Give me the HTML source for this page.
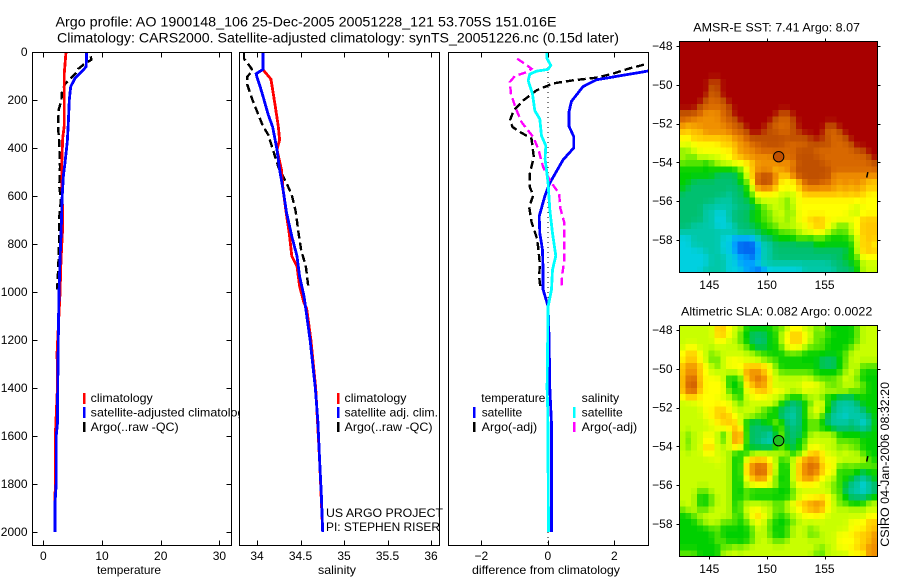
<!DOCTYPE html>
<html lang="en">
<head>
<meta charset="utf-8">
<title>Argo profile 1900148_106</title>
<style>
html,body{margin:0;padding:0;background:#fff;width:900px;height:580px;overflow:hidden}
svg{display:block}
text{font-family:"Liberation Sans",Arial,sans-serif;font-size:12px;fill:#000}
.title{font-size:14px}
.curve{fill:none;shape-rendering:crispEdges;stroke-linejoin:miter}
</style>
</head>
<body>
<svg id="chart" xmlns="http://www.w3.org/2000/svg" width="900" height="580" viewBox="0 0 900 580">
  <defs>
    <clipPath id="clip-t"><rect x="32" y="52" width="199" height="493"/></clipPath>
    <clipPath id="clip-s"><rect x="239.5" y="52" width="199.5" height="493"/></clipPath>
    <clipPath id="clip-d"><rect x="448.3" y="52" width="200" height="493"/></clipPath>
    <clipPath id="clip-legend"><rect x="0" y="380" width="239" height="60"/></clipPath>
  </defs>
  <text class="title" x="55.5" y="26.5" textLength="501" lengthAdjust="spacingAndGlyphs">Argo profile: AO 1900148_106 25-Dec-2005 20051228_121 53.705S 151.016E</text>
  <text class="title" x="57" y="42.5" textLength="562" lengthAdjust="spacingAndGlyphs">Climatology: CARS2000. Satellite-adjusted climatology: synTS_20051226.nc (0.15d later)</text>

  <g id="panel-t"></g>
  <g id="panel-s"></g>
  <g id="panel-d"></g>
  <g id="map-sst"></g>
  <g id="map-sla"></g>

  <text x="97" y="574" textLength="64" lengthAdjust="spacingAndGlyphs">temperature</text>
  <text x="318" y="574" textLength="38" lengthAdjust="spacingAndGlyphs">salinity</text>
  <text x="472" y="574" textLength="148" lengthAdjust="spacingAndGlyphs">difference from climatology</text>

  <g>
    <rect x="83" y="393" width="2.5" height="11" fill="#ff0000"/>
    <rect x="83" y="407" width="2.5" height="11" fill="#0000ff"/>
    <rect x="83" y="422" width="2.5" height="10" fill="#000"/>
    <text x="90.7" y="402" textLength="62" lengthAdjust="spacingAndGlyphs">climatology</text>
    <g clip-path="url(#clip-legend)"><text x="90.7" y="416.5" textLength="160" lengthAdjust="spacingAndGlyphs">satellite-adjusted climatology</text></g>
    <text x="90.7" y="431" textLength="88" lengthAdjust="spacingAndGlyphs">Argo(..raw -QC)</text>
  </g>
  <g>
    <rect x="337" y="393" width="2.5" height="11" fill="#ff0000"/>
    <rect x="337" y="407" width="2.5" height="11" fill="#0000ff"/>
    <rect x="337" y="422" width="2.5" height="10" fill="#000"/>
    <text x="344.5" y="402" textLength="62" lengthAdjust="spacingAndGlyphs">climatology</text>
    <text x="344.5" y="416.5" textLength="93.5" lengthAdjust="spacingAndGlyphs">satellite adj. clim.</text>
    <text x="344.5" y="431" textLength="88" lengthAdjust="spacingAndGlyphs">Argo(..raw -QC)</text>
    <text x="326" y="517" textLength="117" lengthAdjust="spacingAndGlyphs">US ARGO PROJECT</text>
    <text x="326" y="531" textLength="114" lengthAdjust="spacingAndGlyphs">PI: STEPHEN RISER</text>
  </g>
  <g>
    <text x="481.3" y="402" textLength="64" lengthAdjust="spacingAndGlyphs">temperature</text>
    <rect x="473" y="407" width="2.5" height="11" fill="#0000ff"/>
    <rect x="473" y="422" width="2.5" height="10" fill="#000"/>
    <text x="481.7" y="416.5" textLength="40.5" lengthAdjust="spacingAndGlyphs">satellite</text>
    <text x="481.7" y="431" textLength="55.5" lengthAdjust="spacingAndGlyphs">Argo(-adj)</text>
    <text x="581.7" y="402" textLength="37.5" lengthAdjust="spacingAndGlyphs">salinity</text>
    <rect x="573" y="407" width="2.5" height="11" fill="#00ffff"/>
    <rect x="573" y="422" width="2.5" height="10" fill="#ff00ff"/>
    <text x="581.7" y="416.5" textLength="41" lengthAdjust="spacingAndGlyphs">satellite</text>
    <text x="581.7" y="431" textLength="55.5" lengthAdjust="spacingAndGlyphs">Argo(-adj)</text>
  </g>

  <text x="693.3" y="31.7" textLength="166.7" lengthAdjust="spacingAndGlyphs">AMSR-E SST: 7.41 Argo: 8.07</text>
  <text x="681" y="315.7" textLength="191.3" lengthAdjust="spacingAndGlyphs">Altimetric SLA: 0.082 Argo: 0.0022</text>
  <text transform="translate(889,546.7) rotate(-90)" x="0" y="0" textLength="164.7" lengthAdjust="spacingAndGlyphs">CSIRO 04-Jan-2006 08:32:20</text>
</svg>

<script>
// ---- temperature panel ----
const tempTicks = [0, 10, 20, 30];
const depthTicks = [0, 200, 400, 600, 800, 1000, 1200, 1400, 1600, 1800, 2000];
const climTempDepth = [0, 88, 200, 305, 360, 470, 617, 728, 867, 1006, 1250, 1400, 1600, 1680, 2000];
const climTempValue = [3.87, 3.58, 3.58, 3.58, 3.3, 3.13, 3.24, 3.3, 3.02, 2.85, 2.35, 2.4, 2.05, 2.05, 2.0];
const satTempDepth = [0, 61, 82, 110, 144, 200, 297, 373, 450, 520, 617, 728, 867, 1006, 1100, 1200, 1400, 1550, 1600, 1800, 1880, 2000];
const satTempValue = [7.39, 7.3, 6.54, 5.4, 4.67, 4.43, 4.26, 4.09, 3.75, 3.4, 3.19, 3.07, 2.85, 2.67, 2.6, 2.55, 2.45, 2.4, 2.2, 2.2, 2.0, 2.0];
const argoTempDepth = [18, 32, 48, 70, 87, 112, 133, 170, 200, 240, 310, 380, 478, 560, 617, 686, 755, 895, 978, 990];
const argoTempValue = [8.07, 8.2, 7.1, 5.97, 5.57, 4.55, 3.7, 3.13, 3.1, 2.62, 2.5, 2.73, 2.85, 2.73, 3.0, 2.73, 2.73, 2.56, 2.39, 2.39];

// ---- salinity panel ----
const salTicks = [34, 34.5, 35, 35.5, 36];
const climSalDepth = [0, 74, 113, 158, 227, 310, 366, 407, 490, 574, 682, 754, 851, 893, 976, 1046, 1067, 1200, 1400, 1700, 2000];
const climSalValue = [34.07, 34.07, 34.16, 34.18, 34.21, 34.245, 34.26, 34.23, 34.28, 34.30, 34.34, 34.37, 34.40, 34.46, 34.49, 34.54, 34.57, 34.62, 34.675, 34.72, 34.755];
const satSalDepth = [0, 72, 91, 105, 137, 186, 262, 313, 407, 490, 574, 671, 768, 851, 935, 1018, 1067, 1200, 1400, 1540, 1700, 1850, 2000];
const satSalValue = [34.07, 34.07, 33.99, 34.0, 34.03, 34.07, 34.13, 34.18, 34.23, 34.26, 34.30, 34.34, 34.40, 34.46, 34.49, 34.54, 34.56, 34.61, 34.67, 34.70, 34.72, 34.74, 34.755];
const argoSalDepth = [4, 28, 60, 78, 102, 137, 192, 247, 310, 345, 415, 478, 547, 596, 665, 762, 832, 888, 978];
const argoSalValue = [33.85, 33.85, 33.92, 33.95, 33.89, 33.89, 33.94, 34.0, 34.07, 34.13, 34.19, 34.245, 34.34, 34.40, 34.445, 34.48, 34.51, 34.56, 34.59];

// ---- difference panel ----
const diffTicks = [-2, 0, 2];
const satDtDepth = [60, 79, 116, 144, 206, 248, 310, 352, 400, 449, 546, 601, 685, 755, 824, 921, 990, 1060, 1200, 1400, 1550, 2000];
const satDtValue = [3.8, 3.02, 1.46, 1.06, 0.71, 0.64, 0.64, 0.78, 0.78, 0.46, 0.06, -0.09, -0.26, -0.24, -0.16, -0.14, -0.14, 0.01, 0.04, 0.06, 0.11, 0.11];
const argoDtDepth = [53, 68, 90, 107, 118, 131, 160, 202, 243, 285, 313, 333, 361, 438, 507, 562, 597, 646, 708, 771, 813, 882, 938, 986];
const argoDtValue = [2.89, 2.47, 1.96, 1.46, 0.76, 0.16, -0.34, -0.74, -1.02, -1.14, -1.06, -0.84, -0.49, -0.42, -0.54, -0.54, -0.44, -0.56, -0.49, -0.34, -0.29, -0.24, -0.26, -0.22];
const argoDsDepth = [28, 49, 70, 84, 100, 125, 174, 236, 292, 354, 403, 479, 535, 590, 652, 708, 805, 875, 930, 982];
const argoDsValue = [-0.92, -0.69, -0.49, -0.64, -0.99, -1.14, -1.11, -0.96, -0.79, -0.44, -0.29, -0.14, 0.06, 0.34, 0.38, 0.49, 0.49, 0.49, 0.43, 0.41];
const satDsDepth = [0, 28, 56, 72, 80, 92, 119, 175, 244, 279, 349, 390, 446, 546, 657, 755, 849, 907, 990, 1060, 1400, 1500, 2000];
const satDsValue = [-0.02, -0.02, 0.09, 0.01, -0.34, -0.54, -0.59, -0.46, -0.39, -0.24, -0.19, -0.06, -0.08, 0.01, 0.06, 0.14, 0.24, 0.14, 0.11, 0.01, -0.02, 0, 0.02];

// ---- maps ----
const lonTicks = [145, 150, 155];
const latTicks = [-48, -50, -52, -54, -56, -58];
const argoLon = [151.016];
const argoLat = [-53.705];
const trackLon = [158.75, 158.65];
const trackLat = [-54.5, -54.78];
const colorLevels = ['#0060f0','#00a0ff','#00d0e0','#00c8a8','#00c070','#00d000','#60e800','#c8ff00','#ffff00','#ffc800','#f09000','#d86800','#c05000','#a80000'];

const sstGrid = [
[13,13,13,13,13,13,13,13,13,13,13,13,13,13,13,13,13,13,13,13,13,13,13,13,13,13,13,13,13,13,13,13,13,13],
[13,13,13,13,13,13,13,13,13,13,13,13,13,13,13,13,13,13,13,13,13,13,13,13,13,13,13,13,13,13,13,13,13,13],
[13,13,13,13,13,13,13,13,13,13,13,13,13,13,13,13,13,13,13,13,13,13,13,13,13,13,13,13,13,13,13,13,13,13],
[13,13,13,13,13,13,13,13,13,13,13,13,13,13,13,13,13,13,13,13,13,13,13,13,13,13,13,13,13,13,13,13,13,13],
[13,13,13,13,13,13,13,13,13,13,13,13,13,13,13,13,13,13,13,13,13,13,13,13,13,13,13,13,13,13,13,13,13,13],
[13,13,13,13,13,13,13,13,13,13,13,13,13,13,13,13,13,13,13,13,13,13,13,13,13,13,13,13,13,13,13,13,13,13],
[13,13,13,13,13,12,12,13,13,13,13,13,13,13,13,13,13,13,13,13,13,13,13,13,13,13,13,13,13,13,13,13,13,13],
[13,13,13,13,13,12,12,13,13,13,13,13,13,13,13,13,13,13,13,13,13,13,13,13,13,13,13,13,13,13,13,13,13,13],
[13,13,13,13,13,11,12,13,13,13,13,13,13,13,13,13,13,13,13,13,13,13,13,13,13,13,13,13,13,13,13,13,13,13],
[13,13,13,13,12,11,11,12,13,13,13,13,13,13,13,13,13,13,13,13,13,13,13,13,13,13,13,13,13,13,13,13,13,13],
[13,13,13,12,11,11,11,11,12,13,13,13,13,13,13,13,13,13,13,13,13,13,13,13,13,13,13,13,13,13,13,13,13,13],
[12,12,12,11,10,10,10,11,12,13,13,13,13,13,13,13,13,12,12,13,13,13,13,13,13,13,13,13,13,13,13,13,13,13],
[11,11,10,10,10,10,10,11,11,12,13,13,13,13,13,13,12,11,11,12,13,13,13,13,13,13,13,13,13,13,13,13,13,13],
[10,9,10,10,10,10,10,10,11,11,12,13,13,13,13,12,11,11,11,12,13,13,13,13,13,12,12,13,13,13,13,13,13,13],
[9,9,9,9,10,10,10,10,10,11,11,12,13,13,12,12,12,11,11,12,12,13,13,13,13,11,11,12,13,13,13,13,13,13],
[8,8,9,9,9,9,9,9,9,10,10,11,12,12,12,12,12,12,12,12,12,12,12,13,12,12,11,11,12,13,13,13,13,13],
[8,7,8,8,8,8,8,9,9,9,10,10,11,11,12,12,12,12,11,11,11,11,12,12,12,12,11,11,11,12,13,13,13,13],
[6,7,7,8,8,8,8,8,8,9,10,10,10,11,11,11,11,11,11,11,12,12,12,11,11,11,11,11,11,11,12,12,13,13],
[7,6,6,7,7,7,7,8,8,9,9,10,10,10,10,10,11,11,11,11,12,12,12,12,11,11,11,11,11,11,11,11,12,13],
[6,6,6,6,5,6,7,7,7,8,8,8,9,10,10,10,10,10,10,10,12,12,12,12,12,11,11,11,11,11,11,11,11,12],
[5,5,5,5,5,5,5,5,5,5,6,8,9,10,10,10,9,10,10,11,12,12,12,12,12,12,11,11,11,11,11,11,11,11],
[5,5,5,5,5,5,4,4,4,4,5,7,9,11,12,12,10,9,9,10,12,12,12,12,12,12,10,10,10,10,10,10,10,10],
[5,5,4,4,4,4,4,4,4,4,5,6,8,12,12,12,10,8,8,8,9,11,12,12,11,11,10,10,10,10,10,10,9,9],
[5,4,4,4,4,4,4,4,4,4,4,5,7,10,10,10,9,8,8,8,9,10,10,10,10,10,10,9,10,9,10,9,9,9],
[4,4,4,4,4,4,4,4,3,4,4,5,6,8,8,8,8,7,7,7,8,9,9,9,9,9,9,9,9,9,9,9,8,8],
[4,4,4,4,4,4,3,3,3,4,4,4,5,7,7,7,7,7,6,7,8,8,8,8,8,8,8,8,8,8,8,8,8,8],
[4,4,4,4,3,3,3,3,3,3,4,4,4,5,6,7,7,7,6,7,8,8,8,8,8,8,8,8,8,8,7,8,8,8],
[4,4,4,4,3,3,2,2,3,4,4,4,5,5,6,6,7,7,7,6,8,8,8,8,8,8,8,8,8,7,7,8,8,8],
[4,4,4,4,3,3,2,2,3,4,4,4,5,5,6,6,7,7,6,7,8,8,9,9,9,8,8,8,8,8,8,9,9,9],
[4,4,3,3,3,3,2,2,2,3,4,4,4,5,5,6,6,7,7,7,7,8,8,9,9,8,7,6,6,7,8,9,9,9],
[3,3,3,3,3,3,3,3,3,3,4,4,4,4,5,5,5,6,6,6,7,7,8,8,8,7,6,6,6,7,8,9,9,9],
[2,2,3,3,3,3,3,2,2,1,1,1,1,3,4,4,5,5,5,5,6,6,5,6,6,5,5,5,5,6,7,9,9,9],
[2,2,3,3,3,3,3,2,2,1,0,0,0,1,3,3,4,4,4,4,4,4,4,5,5,5,5,5,5,5,7,9,9,8],
[2,2,2,2,3,3,3,2,2,1,0,0,0,1,3,3,4,4,4,4,4,4,4,4,4,4,4,4,4,5,7,9,9,9],
[2,2,2,2,2,3,3,3,2,2,1,1,0,1,3,3,4,4,4,4,4,4,4,4,4,4,4,4,5,5,6,8,8,8],
[2,2,2,2,2,3,3,3,2,2,1,1,1,2,3,3,3,3,3,3,3,3,3,3,3,3,4,4,4,5,5,7,7,7],
[2,2,2,2,3,3,3,3,2,2,2,1,1,0,1,2,2,2,2,2,2,3,3,3,3,3,3,4,4,4,5,7,7,7]
];

const slaGrid = [
[7,7,7,7,7,7,9,9,8,7,7,5,5,5,5,5,6,6,7,8,8,7,7,6,7,5,5,5,5,5,6,7,7,7],
[7,7,7,7,7,7,9,9,8,7,6,5,4,4,4,5,5,7,8,9,9,8,7,6,6,6,5,5,5,5,6,7,7,7],
[7,7,7,7,7,7,8,8,7,7,6,5,4,4,4,5,5,7,8,9,9,8,7,6,6,5,5,5,5,5,6,7,7,7],
[7,8,8,7,7,7,7,7,7,7,7,6,5,4,4,5,5,6,8,8,8,7,6,6,6,5,5,5,5,6,7,7,7,7],
[8,9,9,8,7,6,7,7,7,7,7,7,7,6,6,5,5,5,6,6,6,5,5,5,5,5,5,5,6,7,7,7,7,7],
[8,9,9,8,7,6,6,7,8,8,8,7,7,7,6,6,6,5,5,5,5,5,5,5,4,4,4,5,6,7,7,7,7,7],
[9,10,10,9,8,7,6,7,8,8,8,9,9,9,9,8,6,5,5,5,5,5,5,5,4,4,4,5,6,7,7,6,6,6],
[9,10,10,9,8,7,7,7,7,7,7,10,10,10,9,8,7,6,6,6,6,6,6,5,5,5,5,5,7,7,7,5,5,5],
[9,11,11,9,8,8,8,7,5,5,6,9,10,11,10,9,7,7,7,7,7,7,7,6,6,6,6,7,7,7,6,5,5,5],
[9,11,12,9,8,8,8,8,5,5,5,9,9,10,10,8,7,7,7,7,7,8,8,8,7,6,6,6,7,7,7,6,5,5],
[9,11,11,9,8,8,8,8,6,5,5,8,8,9,9,9,8,8,7,7,7,8,7,7,7,7,7,7,7,6,6,6,5,5],
[8,9,9,8,8,8,8,7,7,6,5,7,8,8,8,7,7,7,6,5,5,6,7,7,6,5,5,4,4,4,5,5,5,5],
[7,7,7,8,8,8,8,8,8,7,6,7,7,7,7,8,7,5,4,4,4,5,6,7,8,5,4,3,3,3,4,5,5,5],
[7,7,7,7,8,8,9,9,8,7,7,7,7,7,6,5,5,4,4,3,4,5,7,8,7,5,4,3,3,3,3,4,5,5],
[7,7,7,7,8,8,9,9,9,8,7,7,7,6,6,5,5,4,3,3,4,5,7,7,6,4,3,3,2,3,3,3,4,5],
[7,7,7,7,7,8,8,9,9,9,7,5,4,4,5,5,7,5,4,3,4,5,6,6,5,4,3,3,3,4,3,2,3,5],
[7,7,7,7,7,7,8,8,8,9,9,5,4,4,4,4,5,6,4,4,4,5,6,6,5,5,4,4,4,4,4,3,4,5],
[7,6,7,7,8,8,7,5,7,10,10,5,4,4,4,3,4,7,4,4,4,5,7,7,7,7,7,5,5,5,5,5,5,5],
[7,6,7,7,8,8,7,6,7,10,10,5,4,4,3,2,5,6,4,4,5,6,7,7,7,7,7,6,6,6,6,5,5,5],
[7,6,7,7,9,9,7,7,7,9,8,5,4,4,4,4,5,6,5,4,5,6,8,8,7,7,7,6,7,6,6,5,5,5],
[7,7,7,7,8,8,7,7,7,5,5,5,7,7,7,7,7,7,7,5,6,7,9,9,9,7,7,7,7,7,7,6,5,5],
[7,7,7,7,7,7,8,7,7,5,5,8,9,9,9,8,7,5,6,7,9,10,10,10,8,8,8,7,7,7,7,7,6,5],
[7,7,7,7,7,7,7,7,7,5,5,9,10,11,11,9,7,5,5,7,9,10,11,11,9,8,8,6,6,6,6,6,6,6],
[7,7,7,7,7,7,7,7,7,5,5,9,10,11,11,9,7,5,5,7,9,10,11,10,9,8,8,5,5,6,5,4,5,5],
[7,7,7,7,7,7,7,7,7,5,5,8,9,10,10,8,6,5,5,7,9,10,10,9,8,7,7,5,6,4,4,3,4,5],
[7,7,7,7,7,7,7,7,7,5,5,7,8,8,8,8,7,5,5,7,8,8,8,8,7,7,6,6,4,4,3,2,3,4],
[7,7,7,6,6,7,7,7,7,5,5,6,5,5,5,5,5,5,5,6,7,7,7,7,7,7,6,6,4,3,3,2,3,4],
[7,7,7,5,5,6,7,7,7,5,5,6,5,5,5,5,5,5,5,6,7,8,8,8,9,8,7,6,5,4,4,4,4,5],
[7,7,7,5,5,6,7,7,7,5,6,7,7,7,7,7,6,6,7,8,9,9,10,10,10,8,7,6,6,5,5,5,7,7],
[6,7,7,6,6,7,7,7,7,5,6,7,8,8,7,7,6,6,7,7,8,9,9,10,9,8,7,7,7,7,7,7,7,7],
[5,5,6,7,7,7,7,7,7,6,5,7,8,9,8,7,6,5,6,7,7,8,8,8,8,7,7,7,7,7,7,7,8,8],
[5,5,5,6,7,7,7,6,6,6,5,6,7,8,7,6,5,5,5,6,7,7,7,7,7,7,7,7,7,8,8,8,9,9],
[5,5,5,5,5,6,6,5,5,5,5,5,6,7,7,6,5,5,6,7,7,7,6,7,7,7,7,7,7,8,8,8,9,9],
[5,5,5,5,5,5,6,5,5,5,5,5,6,7,7,6,5,5,5,7,7,7,6,6,7,7,7,8,8,8,9,9,9,10],
[5,5,5,5,5,5,6,6,5,5,5,5,6,7,7,7,6,6,7,7,7,7,7,7,7,7,7,8,8,8,8,9,9,10],
[5,5,5,5,5,5,5,6,6,7,6,7,7,7,7,7,7,7,7,7,7,7,7,7,6,7,7,8,8,8,9,9,10,10],
[6,6,6,5,5,5,5,7,7,7,7,7,7,7,7,7,7,7,7,7,7,7,7,6,6,7,7,7,7,8,8,8,10,10]
];

const NS = 'http://www.w3.org/2000/svg';
function make(tag, attrs, parent, content) {
  const node = document.createElementNS(NS, tag);
  for (const k in attrs) node.setAttribute(k, attrs[k]);
  if (content !== undefined) node.textContent = content;
  parent.appendChild(node);
  return node;
}
function linear(d0, d1, r0, r1) {
  return function (v) { return r0 + (v - d0) * (r1 - r0) / (d1 - d0); };
}

// shared depth axis
const yDepth = linear(0, 2000, 52, 532);

function drawFrame(g, box) {
  const bg = make('rect', {x: box.l, y: box.t, width: box.r - box.l, height: box.b - box.t, fill: '#fff'}, g);
  
  
  return bg;
}
function drawAxes(g, box, xs, fx, ys, fy, opts) {
  const frame = make('rect', {x: box.l, y: box.t, width: box.r - box.l, height: box.b - box.t, fill: 'none', stroke: '#000', 'stroke-width': 1, 'shape-rendering': 'crispEdges'}, g);
  
  
  xs.forEach(function (v) {
    const x = Math.round(fx(v)) + 0.5;
    const dir = opts.out ? -1 : 1;
    const top = make('line', {x1: x, x2: x, y1: box.t, y2: box.t + dir * opts.len, stroke: '#000', 'shape-rendering': 'crispEdges'}, g);
    
    
    const bottom = make('line', {x1: x, x2: x, y1: box.b, y2: box.b - dir * opts.len, stroke: '#000', 'shape-rendering': 'crispEdges'}, g);
    
    
    const label = make('text', {x: fx(v), y: opts.xLabelY, 'text-anchor': 'middle'}, g, String(v).replace('-', '\u2212'));
    
    
  });
  ys.forEach(function (v) {
    const y = Math.round(fy(v)) + 0.5;
    const dir = opts.out ? -1 : 1;
    const left = make('line', {x1: box.l, x2: box.l + dir * opts.len, y1: y, y2: y, stroke: '#000', 'shape-rendering': 'crispEdges'}, g);
    
    
    const right = make('line', {x1: box.r, x2: box.r - dir * opts.len, y1: y, y2: y, stroke: '#000', 'shape-rendering': 'crispEdges'}, g);
    
    
    const label = make('text', {x: opts.yLabelX, y: fy(v) + 4, 'text-anchor': 'end'}, g, String(v).replace('-', '\u2212'));
    
    
  });
}
function drawCurve(g, clip, fx, depths, values, color, dashed, name) {
  let d = '';
  depths.forEach(function (dep, i) {
    d += (i ? 'L' : 'M') + fx(values[i]).toFixed(1) + ' ' + yDepth(dep).toFixed(1);
  });
  const attrs = {d: d, stroke: color, 'stroke-width': dashed ? 2.4 : 2.8, 'class': 'curve', 'clip-path': 'url(#' + clip + ')'};
  if (dashed) attrs['stroke-dasharray'] = '8 4';
  const path = make('path', attrs, g);
  
  
}

// temperature
const boxT = {l: 32.5, r: 231.5, t: 52.5, b: 545.5};
const xT = linear(0, 30, 43.3, 219.4);
const gT = document.getElementById('panel-t');
drawFrame(gT, boxT);
drawCurve(gT, 'clip-t', xT, argoTempDepth, argoTempValue, '#000', true, 'argo-temperature-line');
drawCurve(gT, 'clip-t', xT, climTempDepth, climTempValue, '#ff0000', false, 'climatology-temperature-line');
drawCurve(gT, 'clip-t', xT, satTempDepth, satTempValue, '#0000ff', false, 'satellite-temperature-line');
drawAxes(gT, boxT, tempTicks, xT, depthTicks, yDepth, {len: 5, out: false, xLabelY: 560, yLabelX: 27.5});

// salinity
const boxS = {l: 239.5, r: 439.5, t: 52.5, b: 545.5};
const xS = linear(34, 36, 257, 431);
const gS = document.getElementById('panel-s');
drawFrame(gS, boxS);
drawCurve(gS, 'clip-s', xS, argoSalDepth, argoSalValue, '#000', true, 'argo-salinity-line');
drawCurve(gS, 'clip-s', xS, climSalDepth, climSalValue, '#ff0000', false, 'climatology-salinity-line');
drawCurve(gS, 'clip-s', xS, satSalDepth, satSalValue, '#0000ff', false, 'satellite-salinity-line');
drawAxes(gS, boxS, salTicks, xS, [], yDepth, {len: 5, out: false, xLabelY: 560, yLabelX: 0});

// difference
const boxD = {l: 448.5, r: 648.5, t: 52.5, b: 545.5};
const xD = linear(-2, 2, 481.3, 614.3);
const gD = document.getElementById('panel-d');
drawFrame(gD, boxD);
const zeroLine = make('line', {x1: xD(0), x2: xD(0), y1: 52, y2: 545, stroke: '#000', 'stroke-width': 1, 'stroke-dasharray': '1 4', 'shape-rendering': 'crispEdges'}, gD);


drawCurve(gD, 'clip-d', xD, argoDtDepth, argoDtValue, '#000', true, 'argo-temperature-difference-line');
drawCurve(gD, 'clip-d', xD, satDtDepth, satDtValue, '#0000ff', false, 'satellite-temperature-difference-line');
drawCurve(gD, 'clip-d', xD, argoDsDepth, argoDsValue, '#ff00ff', true, 'argo-salinity-difference-line');
drawCurve(gD, 'clip-d', xD, satDsDepth, satDsValue, '#00ffff', false, 'satellite-salinity-difference-line');
drawAxes(gD, boxD, diffTicks, xD, [], yDepth, {len: 5, out: false, xLabelY: 560, yLabelX: 0});

// maps: continuous colour scale over the level values, softened with neighbouring cells
function levelColor(v) {
  const i = Math.min(Math.floor(v), colorLevels.length - 2);
  const f = v - i;
  const a = colorLevels[i];
  const b = colorLevels[i + 1];
  let out = '#';
  for (let p = 1; p < 7; p += 2) {
    const ca = parseInt(a.substr(p, 2), 16);
    const cb = parseInt(b.substr(p, 2), 16);
    const c = Math.round(ca + (cb - ca) * f);
    out += (c < 16 ? '0' : '') + c.toString(16);
  }
  return out;
}
function softened(grid, r, c) {
  const rows = grid.length;
  const cols = grid[0].length;
  const up = grid[Math.max(r - 1, 0)][c];
  const down = grid[Math.min(r + 1, rows - 1)][c];
  const left = grid[r][Math.max(c - 1, 0)];
  const right = grid[r][Math.min(c + 1, cols - 1)];
  return (grid[r][c] * 3 + up + down + left + right) / 7;
}
function drawMap(g, grid, box, fx, fy, xLabelY, markerFill) {
  const cols = grid[0].length;
  const rows = grid.length;
  const cw = (box.r - box.l) / cols;
  const ch = (box.b - box.t) / rows;
  grid.forEach(function (row, r) {
    row.forEach(function (v, c) {
      const cell = make('rect', {x: (box.l + c * cw).toFixed(2), y: (box.t + r * ch).toFixed(2), width: (cw + 0.4).toFixed(2), height: (ch + 0.4).toFixed(2), fill: levelColor(softened(grid, r, c)), 'shape-rendering': 'crispEdges'}, g);
      
      
    });
  });
  drawAxes(g, box, lonTicks, fx, latTicks, fy, {len: 3, out: true, xLabelY: xLabelY, yLabelX: 672.5});
  const marker = make('circle', {cx: fx(argoLon[0]), cy: fy(argoLat[0]), r: 5.2, fill: markerFill, stroke: '#000', 'stroke-width': 1}, g);
  
  
  const track = make('line', {x1: fx(trackLon[0]), y1: fy(trackLat[0]), x2: fx(trackLon[1]), y2: fy(trackLat[1]), stroke: '#000', 'stroke-width': 1.5}, g);
  
  
}
const xLon = linear(145, 155, 709.3, 824.6);
const ySst = linear(-48, -58, 46, 240);
const ySla = linear(-48, -58, 330, 524);
drawMap(document.getElementById('map-sst'), sstGrid, {l: 679.5, r: 877.5, t: 41.5, b: 272.5}, xLon, ySst, 289, '#c05000');
drawMap(document.getElementById('map-sla'), slaGrid, {l: 679.5, r: 877.5, t: 325.5, b: 556.5}, xLon, ySla, 573, '#20c020');
</script>
</body>
</html>
